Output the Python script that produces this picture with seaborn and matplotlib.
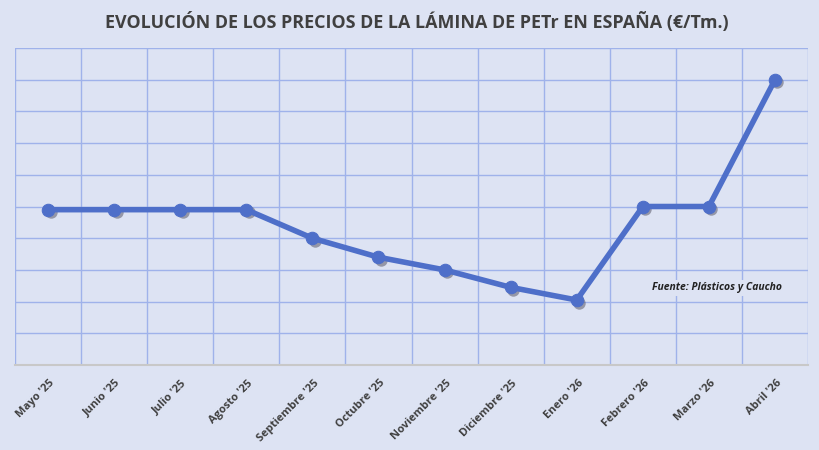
import matplotlib
matplotlib.use("Agg")
import matplotlib.pyplot as plt
import matplotlib.transforms as mtransforms
import pandas as pd
import seaborn as sns

## DATA
meses = ["Mayo '25", "Junio '25", "Julio '25", "Agosto '25", "Septiembre '25", "Octubre '25",
         "Noviembre '25", "Diciembre '25", "Enero '26", "Febrero '26", "Marzo '26", "Abril '26"]
precio = [4.9, 4.9, 4.9, 4.9, 4.0, 3.4, 3.0, 2.45, 2.05, 5.0, 5.0, 9.0]

fondo = "#dde3f3"
azul = "#4e6fc9"
rejilla = "#9fb2ea"

df = pd.DataFrame({"mes": meses, "precio": precio, "pos": range(len(meses))})

## VISUALIZATION
sns.set_style("white")
plt.rcParams['font.family'] = ['Open Sans', 'DejaVu Sans']

fig = plt.figure(figsize=(8.2, 4.5), dpi=100, facecolor=fondo)
ax = fig.add_axes([0.0183, 0.1889, 0.9671, 0.7044])
ax.set_facecolor(fondo)

# marker shadows first (shifted down-right), then the line on top
sns.scatterplot(data=df, x="pos", y="precio", color="#5a5a6a", s=80, linewidth=0, alpha=0.55,
                ax=ax, zorder=2)
desplaz = mtransforms.ScaledTranslation(2.5 / 100, -2.5 / 100, fig.dpi_scale_trans)
for c in ax.collections:
    c.set_offset_transform(ax.transData + desplaz)

sns.lineplot(data=df, x="pos", y="precio", color=azul, linewidth=4, marker="o",
             markersize=9, markeredgecolor=azul, ax=ax, zorder=3)

ax.set_xlim(-0.5, len(meses) - 0.5)
ax.set_ylim(0, 10)
ax.set_yticks(range(0, 11))
ax.set_yticklabels([])
ax.set_xticks([i + 0.5 for i in range(-1, len(meses))])
ax.set_xticklabels([])
ax.tick_params(axis="both", length=0)
ax.grid(True, color=rejilla, linewidth=1)
ax.set_axisbelow(True)

# category labels at the centres
for i, m in enumerate(meses):
    ax.text(i + 0.02, -0.4, m, rotation=45, ha="right", va="top", fontsize=8,
            fontweight="bold", color="#404040", rotation_mode="anchor")

for s in ["top", "left", "right"]:
    ax.spines[s].set_visible(False)
ax.spines["bottom"].set_color("#c8c8c8")
ax.spines["bottom"].set_linewidth(1.5)

ax.set_xlabel("")
ax.set_ylabel("")

fig.text(0.508, 0.952, "EVOLUCIÓN DE LOS PRECIOS DE LA LÁMINA DE PETr EN ESPAÑA (€/Tm.)",
         ha="center", va="center", fontsize=12.9, fontweight="bold", color="#404040")
ax.text(10.12, 2.43, "Fuente: Plásticos y Caucho", ha="center", va="center", fontsize=7.5,
        fontweight="bold", fontstyle="italic", color="#222222",
        bbox=dict(facecolor=fondo, edgecolor="none", pad=1.5))

fig.savefig("out.png", dpi=100, facecolor=fondo)
